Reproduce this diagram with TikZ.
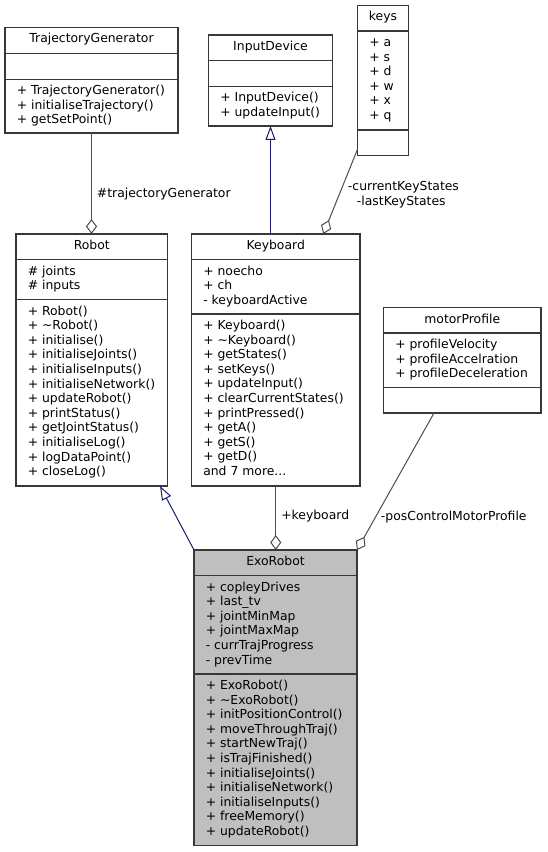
\documentclass[tikz,border=0pt]{standalone}
\usepackage{fontspec}
\setmainfont{DejaVu Sans}
\usetikzlibrary{arrows.meta,calc}
\definecolor{midblue}{HTML}{191970}
\definecolor{exofill}{HTML}{BFBFBF}
\newcommand\umlfont{\fontsize{9.3}{11}\selectfont}
\newcommand\threedots{...}
\newcommand\complines[4]{\foreach \ltext [count=\ci] in {#4} {\node[txt] (#1-\ci) at ({#2},{#3+15.5+14.6*(\ci-1)}) {\ltext};}}
\begin{document}
\begin{tikzpicture}[x=0.75pt,y=-0.75pt,
  umlbox/.style={draw=black!78, line width=1.1pt, inner sep=0pt, outer sep=0pt, anchor=north west, fill=white},
  sepline/.style={draw=black!78, line width=1.1pt},
  txt/.style={anchor=base west, inner sep=0pt, font=\umlfont},
  ttl/.style={anchor=base, inner sep=0pt, font=\umlfont},
  lbl/.style={anchor=base west, inner sep=0pt, font=\umlfont},
  comp/.style={draw=black!70, line width=0.75pt, -{Diamond[open,length=11.25pt,width=8.25pt]}},
  inh/.style={draw=midblue, line width=0.75pt, -{Triangle[open,length=10.5pt,width=7.5pt]}}]
\useasboundingbox (0,0) rectangle (547,852);
% ---------- boxes ----------
\node[umlbox, minimum width={173*0.75pt}, minimum height={105.5*0.75pt}] (tg) at (5,27.5) {};
\node[umlbox, minimum width={124*0.75pt}, minimum height={91*0.75pt}] (inputdev) at (208.5,35) {};
\node[umlbox, minimum width={51*0.75pt}, minimum height={150*0.75pt}] (keys) at (357.5,5.5) {};
\node[umlbox, minimum width={151.5*0.75pt}, minimum height={252*0.75pt}] (robot) at (16,234) {};
\node[umlbox, minimum width={168.5*0.75pt}, minimum height={252*0.75pt}] (keyboard) at (191.5,234) {};
\node[umlbox, minimum width={157.5*0.75pt}, minimum height={105.5*0.75pt}] (motor) at (383.5,307.5) {};
\node[umlbox, fill=exofill, minimum width={163*0.75pt}, minimum height={295.5*0.75pt}] (exo) at (194,550) {};
% ---------- separators ----------
\draw[sepline] (5,53.3) -- (178,53.3) (5,79.3) -- (178,79.3);
\draw[sepline] (208.5,60.7) -- (332.5,60.7) (208.5,86.3) -- (332.5,86.3);
\draw[sepline] (357.5,31) -- (408.5,31) (357.5,130) -- (408.5,130);
\draw[sepline] (16,259.5) -- (167.5,259.5) (16,299.5) -- (167.5,299.5);
\draw[sepline] (191.5,259.5) -- (360,259.5) (191.5,314) -- (360,314);
\draw[sepline] (383.5,333) -- (541,333) (383.5,387.5) -- (541,387.5);
\draw[sepline] (194,575.5) -- (357,575.5) (194,674) -- (357,674);
% ---------- titles ----------
\node[ttl] (tg-t) at ($(tg.north)+(0,15.5)$) {TrajectoryGenerator};
\node[ttl] (inputdev-t) at ($(inputdev.north)+(0,15.5)$) {InputDevice};
\node[ttl] (keys-t) at ($(keys.north)+(0,15.5)$) {keys};
\node[ttl] (robot-t) at ($(robot.north)+(0,15.5)$) {Robot};
\node[ttl] (keyboard-t) at ($(keyboard.north)+(0,15.5)$) {Keyboard};
\node[ttl] (motor-t) at ($(motor.north)+(0,15.5)$) {motorProfile};
\node[ttl] (exo-t) at ($(exo.north)+(0,15.5)$) {ExoRobot};
% ---------- compartments ----------
\complines{tgm}{16.5}{79.3}{+ TrajectoryGenerator(),+ initialiseTrajectory(),+ getSetPoint()}
\complines{inputdevm}{220}{86.3}{+ InputDevice(),+ updateInput()}
\complines{keysa}{369}{31}{+ a,+ s,+ d,+ w,+ x,+ q}
\complines{robota}{27.5}{259.5}{\# joints,\# inputs}
\complines{robotm}{27.5}{299.5}{+ Robot(),+ \textasciitilde Robot(),+ initialise(),+ initialiseJoints(),+ initialiseInputs(),+ initialiseNetwork(),+ updateRobot(),+ printStatus(),+ getJointStatus(),+ initialiseLog(),+ logDataPoint(),+ closeLog()}
\complines{keyboarda}{203}{259.5}{+ noecho,+ ch,- keyboardActive}
\complines{keyboardm}{203}{314}{+ Keyboard(),+ \textasciitilde Keyboard(),+ getStates(),+ setKeys(),+ updateInput(),+ clearCurrentStates(),+ printPressed(),+ getA(),+ getS(),+ getD(),and 7 more\threedots}
\complines{motora}{395}{333}{+ profileVelocity,+ profileAccelration,+ profileDeceleration}
\complines{exoa}{205.5}{575.5}{+ copleyDrives,+ last\_tv,+ jointMinMap,+ jointMaxMap,- currTrajProgress,- prevTime}
\complines{exom}{205.5}{674}{+ ExoRobot(),+ \textasciitilde ExoRobot(),+ initPositionControl(),+ moveThroughTraj(),+ startNewTraj(),+ isTrajFinished(),+ initialiseJoints(),+ initialiseNetwork(),+ initialiseInputs(),+ freeMemory(),+ updateRobot()}
% ---------- connectors ----------
\draw[comp] (tg.south) -- (tg.south |- robot.north);
\draw[inh] (keyboard.north -| inputdev.south) -- (inputdev.south);
\draw[comp] ($(keys.south west)+(0,-6.2)$) -- ($(keyboard.north west)+(131.8,0)$);
\draw[inh] (exo.north west) -- ($(robot.south east)+(-7.5,0)$);
\draw[comp] (keyboard.south) -- (keyboard.south |- exo.north);
\draw[comp] ($(motor.south west)+(50.5,0)$) -- (exo.north east);
% ---------- labels ----------
\node[lbl] (l-tg) at (96.7,197.5) {\#trajectoryGenerator};
\node[lbl] (l-cur) at (347.7,191) {-currentKeyStates};
\node[lbl] (l-last) at (356.7,205.5) {-lastKeyStates};
\node[lbl] (l-kb) at (281,519.5) {+keyboard};
\node[lbl] (l-mp) at (380.7,520.5) {-posControlMotorProfile};
\end{tikzpicture}
\end{document}
